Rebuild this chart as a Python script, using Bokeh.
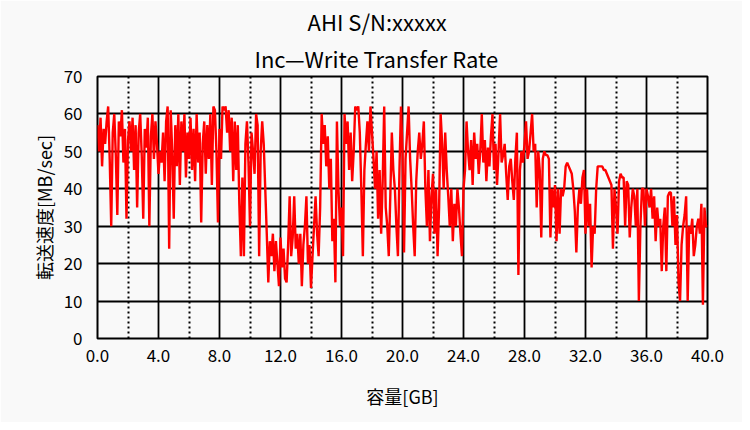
from bokeh.plotting import figure
from bokeh.models import Title, FixedTicker, Range1d, CustomJSTickFormatter
from bokeh.embed import file_html
from bokeh.resources import INLINE

title_line1 = "AHI  S/N:xxxxx"
title_line2 = "Inc\u2014Write Transfer Rate"
x_label = "容量[GB]"
y_label = "転送速度[MB/sec]"

x_ticks = [0, 4, 8, 12, 16, 20, 24, 28, 32, 36, 40]
x_minor = [2, 6, 10, 14, 18, 22, 26, 30, 34, 38]
y_ticks = [0, 10, 20, 30, 40, 50, 60, 70]

step_gb = 0.1
rate = [
    57, 50, 59, 46, 56, 52, 58, 62, 48, 30,
    55, 60, 49, 33, 58, 54, 61, 47, 56, 32,
    53, 58, 50, 59, 45, 57, 35, 55, 60, 49,
    32, 56, 51, 59, 30, 54, 60, 48, 58, 52,
    44, 50, 47, 55, 42, 58, 62, 24, 61, 50,
    32, 57, 46, 60, 41, 58, 50, 60, 43, 55,
    48, 59, 45, 56, 42, 60, 47, 55, 31, 52,
    58, 44, 57, 48, 60, 41, 62, 61, 50, 31,
    56, 48, 62, 61, 62, 55, 61, 50, 59, 42,
    58, 45, 57, 36, 22, 43, 22, 52, 58, 47,
    30, 55, 50, 44, 60, 57, 22, 50, 58, 52,
    40, 28, 15, 26, 22, 28, 18, 26, 20, 14,
    27, 19, 24, 16, 15, 25, 38, 22, 27, 38,
    24, 28, 20, 28, 14, 25, 30, 38, 20, 25,
    13.5, 22, 30, 38, 28, 22, 35, 60, 52, 57,
    46, 54, 40, 48, 26, 32, 15, 58, 40, 30,
    35, 22, 60, 52, 58, 45, 55, 42, 50, 62,
    61, 62, 55, 40, 22, 45, 52, 58, 50, 62,
    55, 48, 40, 50, 32, 45, 28, 42, 62, 35,
    30, 22, 38, 55, 45, 40, 30, 22, 45, 62,
    50, 23, 48, 55, 62, 48, 40, 30, 22, 42,
    50, 55, 48, 52, 58, 40, 30, 45, 26, 38,
    44, 28, 40, 22, 35, 60, 52, 40, 55, 45,
    38, 30, 40, 26, 36, 30, 40, 35, 28, 22,
    40, 45, 58, 50, 45, 53, 41, 55, 48, 52,
    44, 50, 60, 47, 53, 42, 51, 46, 54, 60,
    45, 52, 41, 50, 60, 47, 49, 52, 44, 37,
    46, 48, 42, 37, 48, 55, 17, 45, 50, 47,
    52, 58, 48, 50, 55, 60, 50, 52, 35, 50,
    45, 27, 48, 50, 49, 49, 48, 27, 40, 35,
    41, 26, 40, 28, 40, 38, 40, 46, 47, 46,
    45, 44, 40, 34, 23, 35, 40, 36, 43, 45,
    28, 40, 30, 36, 19, 30, 28, 40, 46, 46,
    46, 46, 45, 45, 44, 43, 42, 41, 24, 40,
    35, 28, 42, 44, 43, 43, 30, 42, 41, 27,
    35, 40, 38, 30, 40, 10, 30, 40, 40, 30,
    40, 38, 35, 40, 32, 38, 26, 35, 30, 32,
    18, 30, 35, 18, 38, 39, 39, 30, 38, 25,
    33, 15, 10, 25, 30, 33, 38, 10, 30, 28,
    32, 22, 25, 30, 32, 28, 36, 9, 35, 30,
    30,
]
capacity = [round(i * step_gb, 1) for i in range(len(rate))]

FONT = "Noto Sans CJK JP, sans-serif"
BG = "#f9f9f9"

p = figure(width=742, height=422, output_backend="svg", toolbar_location=None,
           title=None, x_range=Range1d(0, 40), y_range=Range1d(0, 70),
           min_border_left=97, min_border_right=35, min_border_top=76,
           min_border_bottom=84)
p.background_fill_color = BG
p.border_fill_color = BG
p.outline_line_color = "black"
p.outline_line_width = 2

p.line(capacity, rate, line_color="red", line_width=2.4)

p.xaxis.ticker = FixedTicker(ticks=x_ticks, minor_ticks=x_minor)
p.yaxis.ticker = FixedTicker(ticks=y_ticks)
p.xaxis.formatter = CustomJSTickFormatter(code="return tick.toFixed(1);")

for ax in (p.xaxis[0], p.yaxis[0]):
    ax.axis_line_color = None
    ax.major_tick_line_color = None
    ax.minor_tick_line_color = None
    ax.major_label_text_font = FONT
    ax.major_label_text_font_size = "17px"
    ax.major_label_text_color = "black"
    ax.axis_label_text_font = FONT
    ax.axis_label_text_font_size = "18px"
    ax.axis_label_text_font_style = "normal"
    ax.axis_label_text_color = "black"

p.xaxis.axis_label = x_label
p.yaxis.axis_label = y_label
p.xaxis.major_label_standoff = 4
p.yaxis.major_label_standoff = 9
p.xaxis.axis_label_standoff = 18
p.yaxis.axis_label_standoff = 4

p.xgrid.ticker = FixedTicker(ticks=x_ticks, minor_ticks=x_minor)
p.ygrid.ticker = FixedTicker(ticks=y_ticks)
for g in (p.xgrid[0], p.ygrid[0]):
    g.grid_line_color = "black"
    g.grid_line_width = 1.8
    g.grid_line_alpha = 1
p.xgrid.minor_grid_line_color = "black"
p.xgrid.minor_grid_line_width = 2
p.xgrid.minor_grid_line_dash = "2 3"

p.add_layout(Title(text=title_line2, align="left", text_font=FONT,
                   text_font_size="22px", text_font_style="normal",
                   text_color="black", standoff=6, offset=157), "above")
p.add_layout(Title(text=title_line1, align="left", text_font=FONT,
                   text_font_size="22px", text_font_style="normal",
                   text_color="black", standoff=0, offset=210), "above")

open("out.html", "w").write(file_html(p, INLINE))
